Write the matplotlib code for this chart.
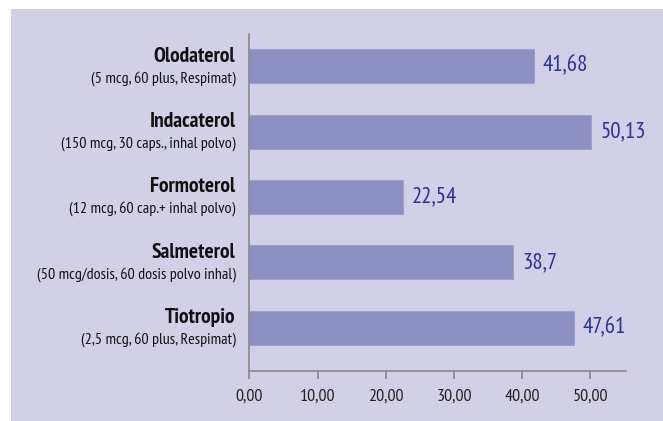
import matplotlib
matplotlib.use('Agg')
import matplotlib.pyplot as plt
from matplotlib.ticker import FuncFormatter

drugs = ['Olodaterol', 'Indacaterol', 'Formoterol', 'Salmeterol', 'Tiotropio']
details = ['(5 mcg, 60 plus, Respimat)',
           '(150 mcg, 30 caps., inhal polvo)',
           '(12 mcg, 60 cap.+ inhal polvo)',
           '(50 mcg/dosis, 60 dosis polvo inhal)',
           '(2,5 mcg, 60 plus, Respimat)']
values = [41.68, 50.13, 22.54, 38.7, 47.61]
value_labels = ['41,68', '50,13', '22,54', '38,7', '47,61']
xticks = [0, 10, 20, 30, 40, 50]

BG = '#d1d0e7'
BAR = '#8e8fc1'
NUM = '#2e3192'
GREY = '#8a8a8a'

plt.rcParams['font.family'] = ['PT Sans Narrow', 'DejaVu Sans']

fig = plt.figure(figsize=(6.63, 4.21), dpi=100)
fig.patch.set_facecolor('white')
# lavender panel behind everything
fig.patches.append(plt.Rectangle((11 / 663, 0), 1, 1 - 9 / 421, transform=fig.transFigure,
                                 facecolor=BG, edgecolor='none', zorder=-1))

ax = fig.add_axes([0.3763, 0.1188, 0.9437 - 0.3763, 0.919 - 0.1188])
ax.set_facecolor('none')

pos = list(range(len(drugs)))
ax.barh(pos, values, height=0.52, color=BAR, edgecolor='#9d9ecb', linewidth=0.8)
ax.set_ylim(len(drugs) - 1 + 0.66, -0.49)
ax.set_xlim(0, 55.2)

for p, v, lab in zip(pos, values, value_labels):
    ax.annotate(lab, (v, p), xytext=(9, 0), textcoords='offset pixels',
                va='center', ha='left', fontsize=16.5, color=NUM)

ax.set_yticks([])
for p, d, det in zip(pos, drugs, details):
    ax.annotate(d, (0, p), xytext=(-14, 10), textcoords='offset pixels',
                va='center', ha='right', fontsize=15.5, fontweight='bold', color='#111111')
    ax.annotate(det, (0, p), xytext=(-14, -12), textcoords='offset pixels',
                va='center', ha='right', fontsize=11.5, color='#111111')

ax.set_xticks(xticks)
ax.xaxis.set_major_formatter(FuncFormatter(lambda x, _: f'{x:.2f}'.replace('.', ',')))
ax.tick_params(axis='x', direction='out', length=6, width=1.2, color=GREY,
               labelsize=13, labelcolor='#222222', pad=7)
for s in ['top', 'right']:
    ax.spines[s].set_visible(False)
for s in ['left', 'bottom']:
    ax.spines[s].set_color(GREY)
    ax.spines[s].set_linewidth(1.2)

fig.savefig('out.png', dpi=100)
